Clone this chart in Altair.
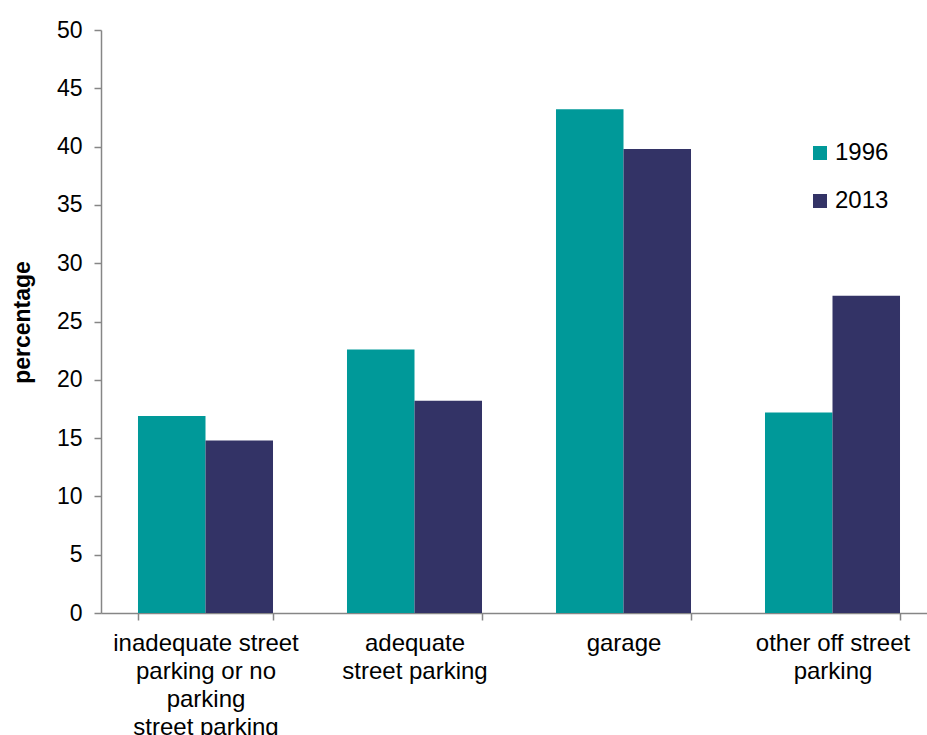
import altair as alt
import pandas as pd

categories = [
    "inadequate street\nparking or no\nparking\nstreet parking",
    "adequate\nstreet parking",
    "garage",
    "other off street\nparking",
]
years = ["1996", "2013"]
values_1996 = [16.9, 22.6, 43.2, 17.2]
values_2013 = [14.8, 18.2, 39.8, 27.2]
colors = ["#009999", "#333366"]
y_ticks = list(range(0, 51, 5))

rows = []
for c, a, b in zip(categories, values_1996, values_2013):
    rows.append({"category": c, "year": years[0], "value": a})
    rows.append({"category": c, "year": years[1], "value": b})
df = pd.DataFrame(rows)

FONT = "Liberation Sans"
GRAY = "#868686"

chart = (
    alt.Chart(df)
    .mark_bar()
    .encode(
        x=alt.X(
            "category:N",
            sort=categories,
            scale=alt.Scale(range=[0, 836], paddingInner=0.354, paddingOuter=0.177),
            axis=alt.Axis(
                title=None,
                labelAngle=0,
                labelExpr="split(datum.label, '\\n')",
                labelFontSize=24,
                labelColor="black",
                labelLineHeight=28,
                labelLimit=400,
                labelBaseline="top",
                tickBand="extent",
                tickSize=7,
                tickColor=GRAY,
                tickWidth=1.5,
                domainColor=GRAY,
                domainWidth=1.5,
                labelPadding=11,
            ),
        ),
        xOffset=alt.XOffset("year:N", sort=years),
        y=alt.Y(
            "value:Q",
            scale=alt.Scale(domain=[0, 50], nice=False),
            axis=alt.Axis(
                values=y_ticks,
                title="percentage",
                titleFontSize=23,
                titleFontWeight="bold",
                titleColor="black",
                titleAngle=270,
                titleX=-79,
                titleY=292,
                titleAlign="center",
                titleBaseline="middle",
                labelFontSize=23,
                labelColor="black",
                labelPadding=12,
                tickSize=7,
                tickColor=GRAY,
                tickWidth=1.5,
                domainColor=GRAY,
                domainWidth=1.5,
                grid=False,
            ),
        ),
        color=alt.Color(
            "year:N",
            scale=alt.Scale(domain=years, range=colors),
            legend=alt.Legend(
                title=None,
                orient="none",
                legendX=707,
                legendY=111,
                labelFontSize=24,
                labelColor="black",
                symbolType="square",
                symbolSize=196,
                symbolStrokeWidth=0,
                rowPadding=24,
                labelOffset=3,
                padding=0,
            ),
        ),
    )
    .properties(
        width=826,
        height=583,
        autosize=alt.AutoSizeParams(type="none"),
        padding={"left": 101, "top": 30, "right": 0, "bottom": 122},
    )
    .configure(font=FONT)
    .configure_view(stroke=None)
)

chart.save("out.html", embed_options={"renderer": "svg", "actions": False})
